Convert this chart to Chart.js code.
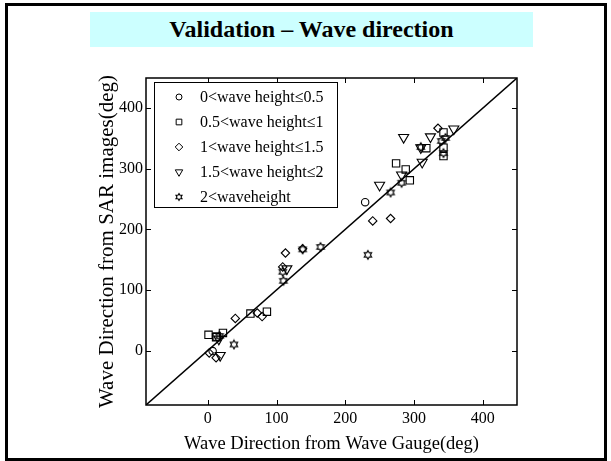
<!DOCTYPE html>
<html>
<head>
<meta charset="utf-8">
<script src="https://cdn.jsdelivr.net/npm/chart.js@4.4.0/dist/chart.umd.min.js"></script>
<style>
body { margin: 0; background: #fff; }
#wrap { position: relative; width: 611px; height: 461px; overflow: hidden; }
#frame { position: absolute; left: 5px; top: 3px; width: 602px; height: 458px; box-sizing: border-box; border: 3px solid #000; }
#title { position: absolute; left: 90px; top: 12px; width: 443px; height: 35px; background: #ccffff;
         font: bold 24px "Liberation Serif", serif; text-align: center; line-height: 35px; color: #000; }
canvas { position: absolute; left: 0; top: 0; }
</style>
</head>
<body>
<div id="wrap">
  <canvas id="chartDirection" width="611" height="461"></canvas>
  <div id="frame"></div>
  <div id="title">Validation &#8211; Wave direction</div>
</div>
<script>
// axes
var axisMin = -90;
var axisMax = 450;
var xTicks = [0, 100, 200, 300, 400];
var yTicks = [0, 100, 200, 300, 400];
var xTitle = 'Wave Direction from Wave Gauge(deg)';
var yTitle = 'Wave Direction from SAR images(deg)';

// series (gauge, SAR)
var labels = ['0<wave height\u22640.5', '0.5<wave height\u22641', '1<wave height\u22641.5', '1.5<wave height\u22642', '2<waveheight'];

var h05X = [7, 229];
var h05Y = [-1, 245];

var h1X = [1, 12, 13, 22, 62, 86, 274, 288, 294, 318, 343, 343, 343];
var h1Y = [26, 22, 23, 29, 61, 64, 309, 299, 281, 334, 360, 335, 321];

var h15X = [2, 12, 40, 72, 79, 109, 113, 138, 240, 266, 335];
var h15Y = [-4, -12, 53, 62, 56, 138, 161, 168, 214, 218, 367];

var h2X = [16, 18, 115, 250, 282, 285, 310, 312, 324, 358];
var h2Y = [19, -8, 135, 273, 290, 352, 335, 311, 353, 366];

var hBigX = [17, 38, 110, 109, 138, 164, 233, 266, 282, 310, 340, 346, 343];
var hBigY = [24, 10, 115, 130, 167, 171, 158, 261, 277, 336, 346, 351, 326];

// 1:1 reference line
var refLine = [axisMin, axisMax];

function pairs(xs, ys) {
    return xs.map(function(x, i) { return {x: x, y: ys[i]}; });
}

function makeHexagram(r) {
    var c = document.createElement('canvas');
    var s = Math.ceil(r * 2 + 3);
    c.width = s;
    c.height = s;
    var g = c.getContext('2d');
    g.strokeStyle = '#000';
    g.lineWidth = 1.1;
    g.beginPath();
    for (var i = 0; i < 12; i++) {
        var a = -Math.PI / 2 + i * Math.PI / 6;
        var rr = i % 2 ? r / Math.sqrt(3) : r;
        var px = s / 2 + rr * Math.cos(a), py = s / 2 + rr * Math.sin(a);
        if (i) g.lineTo(px, py); else g.moveTo(px, py);
    }
    g.closePath();
    g.stroke();
    return c;
}

var hexBig = makeHexagram(4.3);
var hexSmall = makeHexagram(3.5);

var markers = [
    {style: 'circle', radius: 3.7, rotation: 0, legendRadius: 3},
    {style: 'rect', radius: 5.2, rotation: 0, legendRadius: 4},
    {style: 'rectRot', radius: 4.2, rotation: 0, legendRadius: 3.8},
    {style: 'triangle', radius: 5.8, rotation: 180, legendRadius: 4.3},
    {style: hexBig, radius: 4, rotation: 0, legendStyle: hexSmall, legendRadius: 3.5}
];
var seriesX = [h05X, h1X, h15X, h2X, hBigX];
var seriesY = [h05Y, h1Y, h15Y, h2Y, hBigY];

var datasets = labels.map(function(label, i) {
    return {
        type: 'scatter',
        label: label,
        data: pairs(seriesX[i], seriesY[i]),
        pointStyle: markers[i].style,
        pointRadius: markers[i].radius,
        pointRotation: markers[i].rotation,
        pointBorderColor: '#000',
        pointBackgroundColor: 'rgba(0,0,0,0)',
        pointBorderWidth: 1.1
    };
});
datasets.push({
    type: 'line',
    label: 'y = x',
    data: pairs(refLine, refLine),
    borderColor: '#000',
    borderWidth: 1.5,
    pointRadius: 0,
    showLine: true
});

var frameAndLegend = {
    id: 'frameAndLegend',
    afterDatasetsDraw: function(chart) {
        var ctx = chart.ctx, a = chart.chartArea;
        var xs = chart.scales.x, ys = chart.scales.y;
        ctx.save();
        // inward ticks on all four sides
        ctx.strokeStyle = '#000';
        ctx.lineWidth = 1;
        ctx.beginPath();
        xTicks.forEach(function(v) {
            var px = Math.round(xs.getPixelForValue(v)) + 0.5;
            ctx.moveTo(px, a.bottom); ctx.lineTo(px, a.bottom - 5);
            ctx.moveTo(px, a.top); ctx.lineTo(px, a.top + 5);
        });
        yTicks.forEach(function(v) {
            var py = Math.round(ys.getPixelForValue(v)) + 0.5;
            ctx.moveTo(a.left, py); ctx.lineTo(a.left + 5, py);
            ctx.moveTo(a.right, py); ctx.lineTo(a.right - 5, py);
        });
        ctx.stroke();
        ctx.lineWidth = 1.5;
        ctx.strokeRect(a.left, a.top, a.right - a.left, a.bottom - a.top);

        // legend box
        var bx = a.left + 8, by = a.top + 4, bw = 183, bh = 125;
        ctx.fillStyle = '#fff';
        ctx.fillRect(bx, by, bw, bh);
        ctx.lineWidth = 1;
        ctx.strokeRect(bx + 0.5, by + 0.5, bw, bh);
        ctx.font = '16px "Liberation Serif", serif';
        ctx.textBaseline = 'middle';
        ctx.textAlign = 'left';
        labels.forEach(function(label, i) {
            var ly = by + 15 + i * 25;
            var m = markers[i];
            ctx.fillStyle = 'rgba(0,0,0,0)';
            ctx.strokeStyle = '#000';
            ctx.lineWidth = 1;
            Chart.helpers.drawPoint(ctx, {
                pointStyle: m.legendStyle || m.style,
                radius: m.legendRadius,
                rotation: m.rotation,
                borderWidth: 1
            }, bx + 25, ly);
            ctx.fillStyle = '#000';
            ctx.fillText(label, bx + 46, ly + 1);
        });
        ctx.restore();
    }
};

function setTicks(list) {
    return function(scale) {
        scale.ticks = list.map(function(v) { return {value: v}; });
    };
}

var tickFont = {family: '"Liberation Serif", serif', size: 16};

new Chart(document.getElementById('chartDirection').getContext('2d'), {
    type: 'scatter',
    data: {datasets: datasets},
    options: {
        responsive: false,
        animation: false,
        layout: {padding: {left: 95, right: 94, top: 78, bottom: 6}},
        plugins: {
            legend: {display: false},
            tooltip: {enabled: false}
        },
        scales: {
            x: {
                type: 'linear',
                min: axisMin,
                max: axisMax,
                grid: {display: false, drawTicks: false, tickLength: 0},
                border: {display: false},
                afterBuildTicks: setTicks(xTicks),
                afterFit: function(scale) { scale.height = 50; },
                ticks: {color: '#000', font: tickFont, padding: 4, maxRotation: 0},
                title: {
                    display: true,
                    text: xTitle,
                    color: '#000',
                    padding: 0,
                    font: {family: '"Liberation Serif", serif', size: 18.5}
                }
            },
            y: {
                type: 'linear',
                min: axisMin,
                max: axisMax,
                grid: {display: false, drawTicks: false, tickLength: 0},
                border: {display: false},
                afterBuildTicks: setTicks(yTicks),
                afterFit: function(scale) { scale.width = 51; },
                ticks: {color: '#000', font: tickFont, padding: 3},
                title: {
                    display: true,
                    text: yTitle,
                    color: '#000',
                    padding: 0,
                    font: {family: '"Liberation Serif", serif', size: 21}
                }
            }
        }
    },
    plugins: [frameAndLegend]
});
</script>
</body>
</html>
